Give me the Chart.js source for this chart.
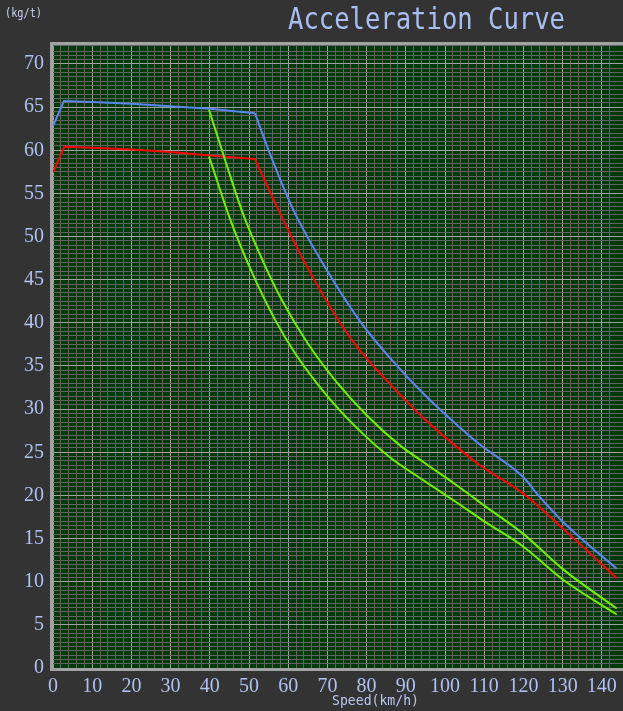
<!DOCTYPE html>
<html>
<head>
<meta charset="utf-8">
<script src="https://cdn.jsdelivr.net/npm/chart.js@4"></script>
<style>
  html, body { margin: 0; padding: 0; background: #333333; }
  #wrap { width: 623px; height: 711px; }
</style>
</head>
<body>
<div id="wrap"><canvas id="accelChart"></canvas></div>
<script>
// speed (km/h) / acceleration (kg/t)
const blueSpeed = [0, 2.8, 10, 20, 30, 40, 51.5, 55, 61.3, 70, 78.3, 86.8, 94.9, 102, 108.9, 120, 123.8, 130.2, 143.8];
const blueAccel = [62.8, 65.7, 65.6, 65.4, 65.1, 64.8, 64.3, 60.0, 53.1, 46.0, 40.2, 35.5, 31.6, 28.6, 25.9, 22.1, 20.0, 16.9, 11.5];

const redSpeed = [0, 2.9, 10, 20, 30, 40, 51.5, 57.5, 64.7, 72.4, 78.3, 86, 94.9, 102, 108.9, 120, 131.9, 143.8];
const redAccel = [57.4, 60.4, 60.3, 60.1, 59.8, 59.4, 59.0, 53.1, 46.6, 40.6, 36.8, 32.9, 28.8, 26.0, 23.5, 20.2, 15.4, 10.4];

const greenUpSpeed = [39.8, 44.3, 48.5, 54.1, 58.3, 65, 72.4, 80, 88.5, 95, 102.6, 111, 119.8, 130.2, 143.8];
const greenUpAccel = [64.7, 58.3, 52.6, 46.6, 42.7, 37.6, 33.1, 29.3, 25.8, 23.7, 21.3, 18.5, 15.6, 11.4, 6.9];

const greenLowSpeed = [39.8, 45.2, 50.7, 56.6, 62, 69.8, 78, 86, 94, 102.6, 110, 119.6, 130.2, 143.8];
const greenLowAccel = [59.3, 52.0, 45.9, 40.4, 36.3, 31.6, 27.6, 24.4, 21.9, 19.3, 17.0, 14.2, 10.2, 6.2];

// index of the point where the flat part ends
const blueCorner = 6;
const redCorner = 6;

const xMax = 145.4;
const yMax = 72.2;

const labelColor = "#aec2f2";
const minorGrid = "#626262";
const majorGrid = "#a0a0a0";

function pts(xs, ys, from, to) {
    return xs.map((x, i) => ({ x: x, y: ys[i] })).slice(from || 0, to);
}

function fitText(ctx, text, x, y, w) {
    const m = ctx.measureText(text).width;
    ctx.save();
    ctx.translate(x, y);
    ctx.scale(w / m, 1);
    ctx.fillText(text, 0, 0);
    ctx.restore();
}

const frame = {
    id: "frame",
    beforeDraw(chart) {
        const { ctx, chartArea: a } = chart;
        ctx.save();
        ctx.fillStyle = "#333333";
        ctx.fillRect(0, 0, chart.width, chart.height);
        ctx.fillStyle = "#003a0a";
        ctx.fillRect(a.left, a.top, a.right - a.left, a.bottom - a.top);
        ctx.restore();
    },
    afterDatasetsDraw(chart) {
        const { ctx, chartArea: a } = chart;
        ctx.save();
        ctx.strokeStyle = "#a2a2a2";
        ctx.lineWidth = 3;
        ctx.beginPath();
        ctx.moveTo(chart.width + 5, a.top - 1.5);
        ctx.lineTo(a.left - 1.5, a.top - 1.5);
        ctx.lineTo(a.left - 1.5, a.bottom + 1.5);
        ctx.lineTo(chart.width + 5, a.bottom + 1.5);
        ctx.stroke();
        ctx.restore();
    },
    afterDraw(chart) {
        const ctx = chart.ctx;
        ctx.save();
        ctx.textAlign = "left";
        ctx.textBaseline = "middle";

        ctx.fillStyle = "#c8d4f2";
        ctx.font = "13px 'DejaVu Sans Mono'";
        fitText(ctx, "(kg/t)", 5, 14, 37);

        ctx.fillStyle = "#a9bff4";
        ctx.font = "31px 'DejaVu Sans Mono'";
        fitText(ctx, "Acceleration Curve", 288, 21, 277);

        ctx.fillStyle = "#b8c8f0";
        ctx.font = "14px 'DejaVu Sans Mono'";
        fitText(ctx, "Speed(km/h)", 332, 701, 87);
        ctx.restore();
    }
};

function gridColor(step) {
    return function (c) {
        if (!c.tick) return minorGrid;
        return Math.abs(c.tick.value % step) < 1e-6 ? majorGrid : minorGrid;
    };
}

const line = (data, color, smooth) => ({
    data: data,
    borderColor: color,
    borderWidth: 2,
    pointRadius: 0,
    tension: 0,
    cubicInterpolationMode: smooth ? "monotone" : "default",
    fill: false
});

new Chart(document.getElementById("accelChart"), {
    type: "line",
    data: {
        datasets: [
            line(pts(greenUpSpeed, greenUpAccel), "#6ef000", true),
            line(pts(greenLowSpeed, greenLowAccel), "#6ef000", true),
            line(pts(redSpeed, redAccel, 0, redCorner + 1), "#ff0000", false),
            line(pts(redSpeed, redAccel, redCorner), "#ff0000", true),
            line(pts(blueSpeed, blueAccel, 0, blueCorner + 1), "#5a84f0", false),
            line(pts(blueSpeed, blueAccel, blueCorner), "#5a84f0", true)
        ]
    },
    options: {
        responsive: true,
        maintainAspectRatio: false,
        animation: false,
        layout: { autoPadding: false, padding: { top: 45, left: 0, right: 0, bottom: 0 } },
        plugins: {
            legend: { display: false },
            tooltip: { enabled: false }
        },
        scales: {
            x: {
                type: "linear",
                min: 0,
                max: xMax,
                border: { display: false },
                grid: { color: gridColor(10), lineWidth: 1, drawTicks: false },
                afterFit: s => { s.height = 43; s.paddingRight = 0; },
                ticks: {
                    stepSize: 2,
                    autoSkip: false,
                    maxRotation: 0,
                    minRotation: 0,
                    padding: 7,
                    color: labelColor,
                    font: { family: "'Liberation Serif'", size: 20 },
                    callback: v => (v % 10 === 0 ? String(v) : "")
                }
            },
            y: {
                min: 0,
                max: yMax,
                border: { display: false },
                grid: { color: gridColor(5), lineWidth: 1, drawTicks: false },
                afterFit: s => { s.width = 53; },
                ticks: {
                    stepSize: 0.5,
                    autoSkip: false,
                    padding: 9,
                    color: labelColor,
                    font: { family: "'Liberation Serif'", size: 20 },
                    callback: v => (v % 5 === 0 ? String(v) : "")
                }
            }
        }
    },
    plugins: [frame]
});
</script>
</body>
</html>
